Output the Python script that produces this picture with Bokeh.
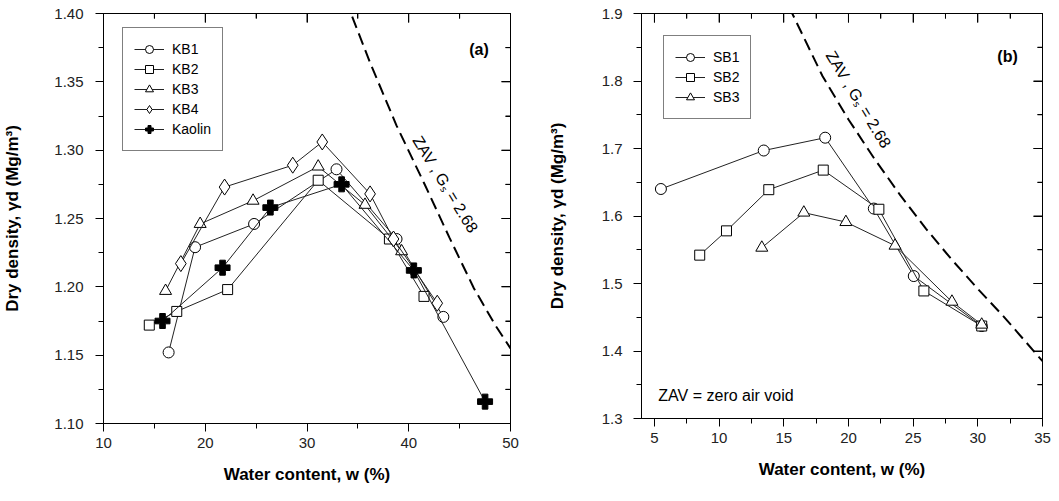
import math
from bokeh.plotting import figure
from bokeh.layouts import row
from bokeh.models import (FixedTicker, NumeralTickFormatter, LinearAxis,
                          Legend, LegendItem, Label, Range1d)
from bokeh.embed import file_html
from bokeh.resources import INLINE

# ---------------- data: panel (a) ----------------
kb1_w = [16.4, 19.0, 24.8, 32.9, 38.8, 43.4]
kb1_d = [1.152, 1.229, 1.246, 1.286, 1.235, 1.178]
kb2_w = [14.5, 17.2, 22.2, 31.1, 38.1, 41.5]
kb2_d = [1.172, 1.182, 1.198, 1.278, 1.235, 1.193]
kb3_w = [16.1, 19.5, 24.7, 31.1, 35.7, 39.3]
kb3_d = [1.197, 1.246, 1.263, 1.288, 1.260, 1.226]
kb4_w = [17.6, 21.9, 28.6, 31.5, 36.2, 38.5, 42.8]
kb4_d = [1.217, 1.273, 1.289, 1.306, 1.268, 1.235, 1.188]
kao_w = [15.8, 21.7, 26.4, 33.4, 40.5, 47.5]
kao_d = [1.175, 1.214, 1.258, 1.275, 1.212, 1.116]
zav_a_w = [33.8, 36.2, 38.8, 41.5, 44.0, 46.4, 48.5, 50.0]
zav_a_d = [1.410, 1.364, 1.318, 1.276, 1.236, 1.199, 1.172, 1.155]

# ticks panel (a)
xa_major = [10, 20, 30, 40, 50]
xa_minor = [15, 25, 35, 45]
ya_major = [1.10, 1.15, 1.20, 1.25, 1.30, 1.35, 1.40]
ya_minor = [1.125, 1.175, 1.225, 1.275, 1.325, 1.375]

# ---------------- data: panel (b) ----------------
sb1_w = [5.5, 13.45, 18.2, 21.96, 25.05, 30.3]
sb1_d = [1.640, 1.697, 1.716, 1.611, 1.511, 1.437]
sb2_w = [8.5, 10.57, 13.84, 18.05, 22.35, 25.83, 30.3]
sb2_d = [1.542, 1.578, 1.639, 1.668, 1.610, 1.489, 1.437]
sb3_w = [13.3, 16.55, 19.8, 23.6, 28.0, 30.3]
sb3_d = [1.553, 1.605, 1.591, 1.556, 1.473, 1.439]
zav_b_w = [15.4, 18, 20, 22, 24, 26, 28, 30, 32, 35]
zav_b_d = [1.910, 1.807, 1.743, 1.685, 1.631, 1.581, 1.535, 1.492, 1.451, 1.385]

# ticks panel (b)
xb_major = [5, 10, 15, 20, 25, 30, 35]
xb_minor = [7.5, 12.5, 17.5, 22.5, 27.5, 32.5]
yb_major = [1.3, 1.4, 1.5, 1.6, 1.7, 1.8, 1.9]
yb_minor = [1.35, 1.45, 1.55, 1.65, 1.75, 1.85]

FONT = "Liberation Sans"
MAJ_IN, MIN_IN = 9, 5  # inward tick lengths (px) on top/right frame edges


def style(p, xmaj, xmin, ymaj, ymin, xfmt, yfmt):
    p.xgrid.visible = False
    p.ygrid.visible = False
    p.outline_line_color = "black"
    for ax, mj, mn, fmt in ((p.xaxis[0], xmaj, xmin, xfmt), (p.yaxis[0], ymaj, ymin, yfmt)):
        ax.ticker = FixedTicker(ticks=mj, minor_ticks=mn)
        ax.formatter = NumeralTickFormatter(format=fmt)
        ax.major_tick_out = 8
        ax.major_tick_in = 0
        ax.minor_tick_out = 5
        ax.minor_tick_in = 0
        ax.axis_line_color = "black"
        ax.major_tick_line_color = "black"
        ax.minor_tick_line_color = "black"
        ax.major_label_text_font = FONT
        ax.major_label_text_font_size = "15px"
        ax.major_label_text_color = "#222222"
        ax.axis_label_text_font = FONT
        ax.axis_label_text_font_size = "17px"
        ax.axis_label_text_font_style = "bold"
        ax.axis_label_text_color = "black"
    p.xaxis[0].major_label_standoff = 6
    p.xaxis[0].axis_label_standoff = 14
    p.xaxis[0].axis_label = "Water content, w (%)"
    p.yaxis[0].axis_label = "Dry density, \u03b3d (Mg/m\u00b3)"


def inward_ticks(p, xmaj, xmin, ymaj, ymin):
    # tick marks pointing into the frame along its top and right edges:
    # "dash" markers centred on the frame edge (the outer half is clipped by the frame)
    x1 = p.x_range.end
    y1 = p.y_range.end
    for ticks, L in ((xmaj, MAJ_IN), (xmin, MIN_IN)):
        n = len(ticks)
        p.scatter(x=list(ticks), y=[y1] * n, marker="dash", size=2 * L,
                  angle=math.pi / 2, line_color="black", line_width=1)
    for ticks, L in ((ymaj, MAJ_IN), (ymin, MIN_IN)):
        n = len(ticks)
        p.scatter(x=[x1] * n, y=list(ticks), marker="dash", size=2 * L,
                  line_color="black", line_width=1)
    # plus extra axes on the top and right with inward ticks and no visible labels
    for ticks, minor, side in ((xmaj, xmin, "above"), (ymaj, ymin, "right")):
        ax = LinearAxis(ticker=FixedTicker(ticks=ticks, minor_ticks=minor),
                        major_label_text_color=None, major_label_text_font_size="8px",
                        major_label_standoff=0,
                        major_tick_in=MAJ_IN, major_tick_out=0,
                        minor_tick_in=MIN_IN, minor_tick_out=0,
                        axis_line_color="black", major_tick_line_color="black",
                        minor_tick_line_color="black")
        p.add_layout(ax, side)


def series(p, w, d, marker, size, fill):
    lr = p.line(w, d, line_color="#222222", line_width=1)
    sr = p.scatter(w, d, marker=marker, size=size, fill_color=fill,
                   line_color="black", line_width=1)
    return lr, sr


def make_legend(p, entries, loc):
    items = [LegendItem(label=lab, renderers=list(rs)) for lab, rs in entries]
    leg = Legend(items=items, location=loc, border_line_color="black", border_line_width=1,
                 background_fill_color="white", background_fill_alpha=1,
                 padding=11, spacing=0, margin=0, glyph_height=20, glyph_width=30,
                 label_height=20, label_standoff=8, label_text_font=FONT,
                 label_text_font_size="14px", label_text_color="black")
    p.add_layout(leg, "center")


# ---------------- panel (a) ----------------
p1 = figure(frame_width=407, frame_height=410, x_range=Range1d(10, 50),
            y_range=Range1d(1.10, 1.40), output_backend="svg", toolbar_location=None,
            min_border_left=95, min_border_right=23, min_border_top=9, min_border_bottom=66)
style(p1, xa_major, xa_minor, ya_major, ya_minor, "0", "0.00")
p1.yaxis[0].major_label_standoff = 12
p1.yaxis[0].axis_label_standoff = 29
inward_ticks(p1, xa_major, xa_minor, ya_major, ya_minor)

p1.line(zav_a_w, zav_a_d, line_color="black", line_width=2, line_dash="12 6")
r_kb1 = series(p1, kb1_w, kb1_d, "circle", 11, "white")
r_kb2 = series(p1, kb2_w, kb2_d, "square", 10, "white")
r_kb3 = series(p1, kb3_w, kb3_d, "triangle", 12, "white")
r_kb4 = series(p1, kb4_w, kb4_d, "diamond", 16, "white")
r_kao = series(p1, kao_w, kao_d, "plus", 15, "black")
make_legend(p1, [("KB1", r_kb1), ("KB2", r_kb2), ("KB3", r_kb3), ("KB4", r_kb4),
                 ("Kaolin", r_kao)], (19, 272))
p1.add_layout(Label(x=46.9, y=1.374, text="(a)", text_font=FONT, text_font_size="16px",
                    text_font_style="bold", text_align="center", text_baseline="middle",
                    text_color="black"))
p1.add_layout(Label(x=43.6, y=1.275, text="ZAV , G\u209b = 2.68", text_font=FONT,
                    text_font_size="16px", angle=-1.023, text_align="center",
                    text_baseline="middle", text_color="black"))

# ---------------- panel (b) ----------------
p2 = figure(frame_width=401, frame_height=405, x_range=Range1d(4, 35),
            y_range=Range1d(1.3, 1.9), output_backend="svg", toolbar_location=None,
            min_border_left=108, min_border_right=9, min_border_top=13, min_border_bottom=67)
style(p2, xb_major, xb_minor, yb_major, yb_minor, "0", "0.0")
p2.yaxis[0].major_label_standoff = 11
p2.yaxis[0].axis_label_standoff = 32
inward_ticks(p2, xb_major, xb_minor, yb_major, yb_minor)

p2.line(zav_b_w, zav_b_d, line_color="black", line_width=2, line_dash="12 6")
r_sb1 = series(p2, sb1_w, sb1_d, "circle", 11, "white")
r_sb2 = series(p2, sb2_w, sb2_d, "square", 10, "white")
r_sb3 = series(p2, sb3_w, sb3_d, "triangle", 12, "white")
make_legend(p2, [("SB1", r_sb1), ("SB2", r_sb2), ("SB3", r_sb3)], (22, 299))
p2.add_layout(Label(x=32.3, y=1.836, text="(b)", text_font=FONT, text_font_size="16px",
                    text_font_style="bold", text_align="center", text_baseline="middle",
                    text_color="black"))
p2.add_layout(Label(x=20.78, y=1.7726, text="ZAV , G\u209b = 2.68", text_font=FONT,
                    text_font_size="16px", angle=-1.027, text_align="center",
                    text_baseline="middle", text_color="black"))
p2.add_layout(Label(x=5.3, y=1.334, text="ZAV = zero air void", text_font=FONT,
                    text_font_size="16px", text_align="left", text_baseline="middle",
                    text_color="black"))

layout = row(p1, p2)
open("out.html", "w").write(file_html(layout, INLINE))
